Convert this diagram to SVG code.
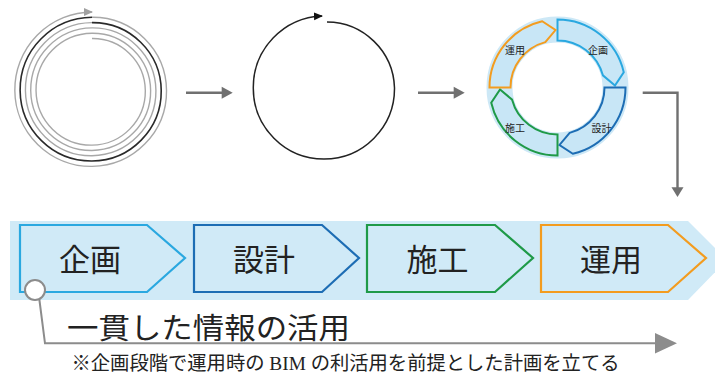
<svg xmlns="http://www.w3.org/2000/svg" width="715" height="376" viewBox="0 0 715 376">
<style>
.sp{fill:none;stroke:#a8a8a8;stroke-width:1.4}
.spd{fill:none;stroke:#2a2a2a;stroke-width:1.6}
.arw{fill:none;stroke:#707070;stroke-width:2.4}
.ah{fill:#707070}
.seg{fill:#c8e6f6;stroke-width:2;stroke-linejoin:miter}
.pent{fill:#d0eaf7;stroke-width:2.2}
.t{font-family:"Liberation Serif","Noto Sans CJK JP",serif;fill:#222}
.rl{font-family:"Noto Sans CJK JP",sans-serif;font-size:10px;fill:#222;text-anchor:middle;dominant-baseline:central}
.big{font-size:31px;text-anchor:middle}
</style>
<defs>
<marker id="mg" markerUnits="userSpaceOnUse" markerWidth="10" markerHeight="10" refX="8" refY="4" orient="auto" viewBox="0 0 10 8"><path d="M0,0 L9,4 L0,8 Z" fill="#a0a0a0"/></marker>
<marker id="mk" markerUnits="userSpaceOnUse" markerWidth="10" markerHeight="10" refX="8" refY="4" orient="auto" viewBox="0 0 10 8"><path d="M0,0 L9,4 L0,8 Z" fill="#111"/></marker>
<path id="segp" d="M0,-68 A68,68 0 0 1 66.26,-15.3 L57.46,-2 L45.4,-12.16 A47,47 0 0 0 0,-47 Z"/>
</defs>

<g id="spiral">
<path class="sp" d="M92,38.5 A52.7,52.7 0 0 1 145.325,90.5 A54,54 0 0 1 92,145.15 A55.3,55.3 0 0 1 36.025,90.5 A56.6,56.6 0 0 1 92,33.2 A58,58 0 0 1 150.625,90.5 A59.3,59.3 0 0 1 92,150.45 A60.6,60.6 0 0 1 30.725,90.5 A61.9,61.9 0 0 1 92,27.9 A63.3,63.3 0 0 1 155.925,90.5 A64.6,64.6 0 0 1 92,155.75 A65.9,65.9 0 0 1 25.425,90.5 A67.2,67.2 0 0 1 92,22.6"/>
<path class="spd" d="M92,22.6 A68.6,68.6 0 0 1 161.225,90.5 A69.9,69.9 0 0 1 92,161.05 A71.2,71.2 0 0 1 20.125,90.5 A72.5,72.5 0 0 1 92,17.3"/>
<path class="sp" marker-end="url(#mg)" d="M92,17.3 A73.9,73.9 0 0 1 166.525,90.5 A75.2,75.2 0 0 1 92,166.35 A76.5,76.5 0 0 1 14.825,90.5 A77.8,77.8 0 0 1 92,12"/>
</g>

<g id="loop">
<path fill="none" stroke="#222" stroke-width="1.5" marker-end="url(#mk)" d="M327,22 A68,68 0 0 1 394.5,88 A70.5,70.5 0 0 1 324,159 A70.8,70.8 0 0 1 253.3,88 A71.5,71.5 0 0 1 322,16"/>
</g>

<g id="cycle">
<circle cx="557.5" cy="87.5" r="58" fill="none" stroke="#cde8f6" stroke-width="26"/>
<g id="cyc-kikaku" transform="translate(557.5 87.5)"><use href="#segp" class="seg" stroke="#2aa8e0"/></g>
<g id="cyc-sekkei" transform="translate(557.5 87.5) rotate(90)"><use href="#segp" class="seg" stroke="#1d6db4"/></g>
<g id="cyc-seko" transform="translate(557.5 87.5) rotate(180)"><use href="#segp" class="seg" stroke="#1f9a48"/></g>
<g id="cyc-unyo" transform="translate(557.5 87.5) rotate(270)"><use href="#segp" class="seg" stroke="#f39c1f"/></g>
<text class="rl" x="598" y="49">企画</text>
<text class="rl" x="601.5" y="127">設計</text>
<text class="rl" x="515" y="127">施工</text>
<text class="rl" x="515" y="49">運用</text>
</g>

<g id="connectors">
<line class="arw" x1="186" y1="92.7" x2="223" y2="92.7"/>
<path class="ah" d="M221.7,86.7 L232.7,92.7 L221.7,98.7 Z"/>
<line class="arw" x1="418" y1="92.7" x2="455" y2="92.7"/>
<path class="ah" d="M453.7,86.7 L464.7,92.7 L453.7,98.7 Z"/>
<path class="arw" d="M642.7,92.7 H677.5 V188"/>
<path class="ah" d="M671.5,187.3 L677.5,197 L683.5,187.3 Z"/>
</g>

<g id="band">
<polygon points="10,221 688,221 727,260 688,300 10,300" fill="#d0eaf7"/>
</g>

<g id="step-kikaku">
<polygon class="pent" stroke="#2aa8e0" points="20,225 147,225 185,258 147,292 20,292"/>
<text class="t big" x="90" y="271" textLength="62" lengthAdjust="spacingAndGlyphs">企画</text>
</g>
<g id="step-sekkei">
<polygon class="pent" stroke="#1d6db4" points="194,225 322,225 359,258 322,292 194,292"/>
<text class="t big" x="264" y="271" textLength="62" lengthAdjust="spacingAndGlyphs">設計</text>
</g>
<g id="step-seko">
<polygon class="pent" stroke="#1f9a48" points="367,225 495,225 533,258 495,292 367,292"/>
<text class="t big" x="437.5" y="271" textLength="62" lengthAdjust="spacingAndGlyphs">施工</text>
</g>
<g id="step-unyo">
<polygon class="pent" stroke="#f39c1f" points="541,225 668,225 706,258 668,292 541,292"/>
<text class="t big" x="611" y="271" textLength="62" lengthAdjust="spacingAndGlyphs">運用</text>
</g>

<g id="info-flow">
<path fill="none" stroke="#8c8c8c" stroke-width="2" d="M39.3,299 L45,343.3 H658"/>
<path fill="#8c8c8c" d="M655,333 L677,343.3 L655,353.6 Z"/>
<circle cx="35" cy="290" r="10" fill="#fff" stroke="#8c8c8c" stroke-width="2"/>
<text class="t" x="67" y="339" font-size="29" textLength="283" lengthAdjust="spacingAndGlyphs">一貫した情報の活用</text>
<text class="t" x="71.5" y="370" font-size="19.5" textLength="548" lengthAdjust="spacingAndGlyphs">※企画段階で運用時の BIM の利活用を前提とした計画を立てる</text>
</g>
</svg>
